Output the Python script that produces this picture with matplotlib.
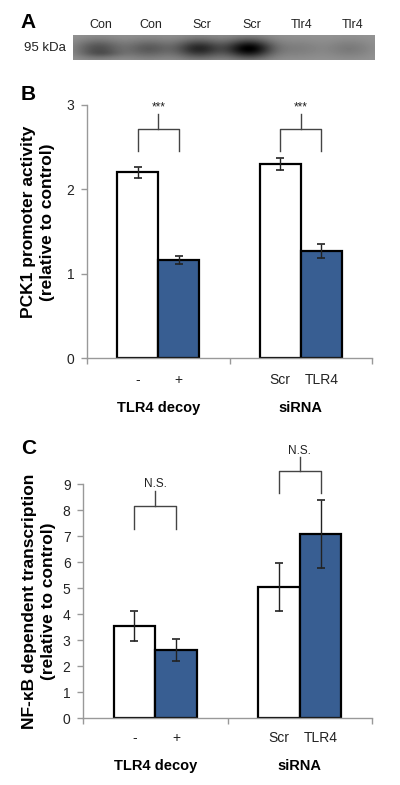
import numpy as np
import matplotlib
matplotlib.use('Agg')
import matplotlib.pyplot as plt
from matplotlib.transforms import blended_transform_factory

plt.rcParams['font.family'] = ['Liberation Sans', 'DejaVu Sans']

# ---------------- data ----------------
lane_labels = ['Con', 'Con', 'Scr', 'Scr', 'Tlr4', 'Tlr4']
lane_darkness = [0.26, 0.22, 0.42, 0.58, 0.08, 0.10]
marker_label = '95 kDa'

group_labels = ['TLR4 decoy', 'siRNA']
cond_labels = ['-', '+', 'Scr', 'TLR4']

pck1_values = [2.20, 1.16, 2.30, 1.27]
pck1_errors = [0.06, 0.05, 0.07, 0.08]
pck1_sig = ['***', '***']

nfkb_values = [3.55, 2.63, 5.05, 7.08]
nfkb_errors = [0.57, 0.43, 0.92, 1.30]
nfkb_sig = ['N.S.', 'N.S.']

W, H = 400, 785
BLUE = '#385E92'

fig = plt.figure(figsize=(W / 100, H / 100), dpi=100)


def fx(px):
    return px / W


def fy(py):
    return 1 - py / H


# ---------------- Panel A: blot ----------------
axA = fig.add_axes([fx(73), fy(60), fx(375) - fx(73), (60 - 35) / H])
nx, ny = 302, 25
xs = np.linspace(0, 6, nx)
ys = np.linspace(0, 1, ny)
X, Y = np.meshgrid(xs, ys)
img = np.full_like(X, 0.58)
for i, d in enumerate(lane_darkness):
    img -= d * np.exp(-((X - (i + 0.5)) ** 2) / (2 * 0.33 ** 2)) * np.exp(-((Y - 0.55) ** 2) / (2 * 0.28 ** 2))
img -= 0.06 * np.exp(-((X - 0.6) ** 2) / (2 * 0.3 ** 2)) * np.exp(-((Y - 0.75) ** 2) / (2 * 0.1 ** 2))
img = np.clip(img, 0, 1)
axA.imshow(img, cmap='gray', vmin=0, vmax=1, aspect='auto', extent=(0, 6, 1, 0), interpolation='bilinear')
axA.set_axis_off()
for i, lab in enumerate(lane_labels):
    fig.text(fx(73) + (i + 0.55) / 6 * (fx(375) - fx(73)), fy(25), lab, ha='center', va='center',
             fontsize=9, color='#222222')
fig.text(fx(45), fy(48), marker_label, ha='center', va='center', fontsize=9.5, color='#222222')

# panel letters
fig.text(fx(28), fy(22), 'A', ha='center', va='center', fontsize=15, fontweight='bold')
fig.text(fx(28), fy(94), 'B', ha='center', va='center', fontsize=15, fontweight='bold')
fig.text(fx(29), fy(448), 'C', ha='center', va='center', fontsize=15, fontweight='bold')


def bar_panel(ax, values, errors, ylim, yticks, brackets, sig, tick_py, group_py, ylabels, ylabel_px, ylabel_py):
    w = 0.288
    centers = [0.5 - w / 2, 0.5 + w / 2, 1.5 - w / 2, 1.5 + w / 2]
    colors = ['white', BLUE, 'white', BLUE]
    ax.bar(centers, values, width=w, color=colors, edgecolor='black', linewidth=1.6, zorder=2)
    ax.errorbar(centers, values, yerr=errors, fmt='none', ecolor='#222222', elinewidth=1.0,
                capsize=3, capthick=1.2, zorder=3)
    ax.set_xlim(0, 2)
    ax.set_ylim(*ylim)
    ax.set_yticks(yticks)
    ax.set_yticklabels([str(t) for t in yticks])
    ax.set_xticks([0, 1, 2])
    ax.set_xticklabels([])
    for s in ['top', 'right']:
        ax.spines[s].set_visible(False)
    for s in ['left', 'bottom']:
        ax.spines[s].set_color('#999999')
        ax.spines[s].set_linewidth(1.0)
    ax.tick_params(axis='y', length=4, width=1, color='#999999', pad=5, labelsize=10, labelcolor='#222222')
    ax.tick_params(axis='x', length=4, width=1, color='#999999')
    # brackets
    for g, (hbar, leg, stem, ty) in enumerate(brackets):
        x1, x2 = centers[2 * g], centers[2 * g + 1]
        xm = (x1 + x2) / 2
        ax.plot([x1, x1, x2, x2], [leg, hbar, hbar, leg], color='#444444', lw=1.0, clip_on=False, zorder=4)
        ax.plot([xm, xm], [hbar, stem], color='#444444', lw=1.0, clip_on=False, zorder=4)
        ax.text(xm, ty, sig[g], ha='center', va='baseline', fontsize=8.5, color='#222222', clip_on=False)
    tr = blended_transform_factory(ax.transData, fig.transFigure)
    for c, lab in zip(centers, cond_labels):
        ax.text(c, fy(tick_py), lab, transform=tr, ha='center', va='center', fontsize=10, color='#222222')
    for g, lab in enumerate(group_labels):
        ax.text(g + 0.5, fy(group_py), lab, transform=tr, ha='center', va='center', fontsize=10.5,
                fontweight='bold')
    for lab, px in zip(ylabels, ylabel_px):
        fig.text(fx(px), fy(ylabel_py), lab, rotation=90, ha='center', va='center', fontsize=12.5,
                 fontweight='bold')


# ---------------- Panel B ----------------
axB = fig.add_axes([fx(87), fy(358), fx(372) - fx(87), (358 - 105) / H])
bar_panel(axB, pck1_values, pck1_errors, (0, 3), [0, 1, 2, 3],
          [(2.72, 2.45, 2.89, 2.93), (2.72, 2.45, 2.89, 2.93)], pck1_sig,
          380, 408, ['PCK1 promoter activity', '(relative to control)'], [29, 48], 222)

# ---------------- Panel C ----------------
axC = fig.add_axes([fx(83), fy(718.3), fx(372) - fx(83), (718.3 - 484.3) / H])
bar_panel(axC, nfkb_values, nfkb_errors, (0, 9), list(range(10)),
          [(8.17, 7.3, 8.74, 8.9), (9.5, 8.66, 10.06, 10.17)], nfkb_sig,
          738, 766, ['NF-κB dependent transcription', '(relative to control)'], [30, 49], 601)

fig.savefig('out.png', dpi=100)
